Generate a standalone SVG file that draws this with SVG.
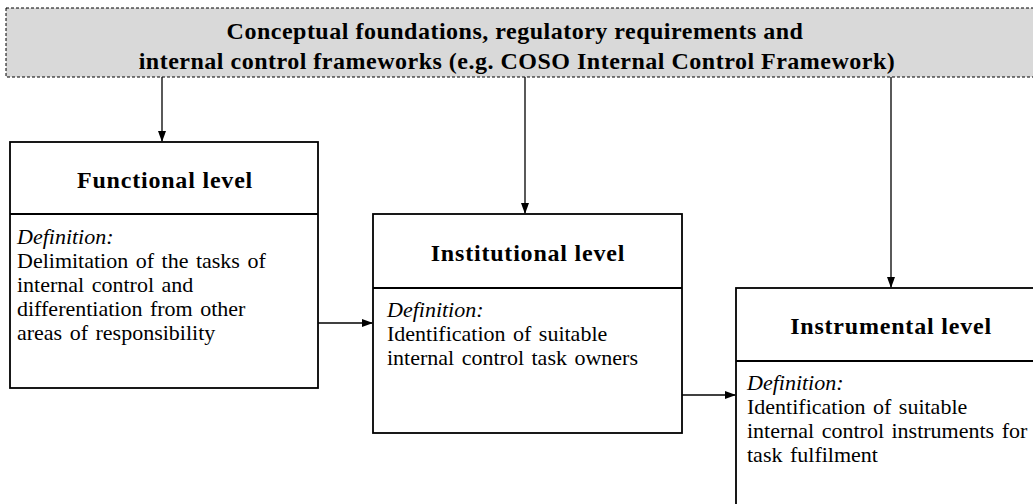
<svg xmlns="http://www.w3.org/2000/svg" width="1033" height="504" viewBox="0 0 1033 504">
<defs>
<marker id="ah" markerWidth="11" markerHeight="10" refX="10" refY="5" orient="auto" markerUnits="userSpaceOnUse">
<path d="M0,1 L11,5 L0,9 Z" fill="#000"/>
</marker>
<style>
.box{fill:#fff;stroke:#000;stroke-width:1.8}
.div{stroke:#000;stroke-width:1.8}
.title{font-family:"Liberation Serif","Times New Roman",serif;font-weight:bold;font-size:24px;letter-spacing:0.8px;text-anchor:middle;fill:#000}
.banner{font-family:"Liberation Serif","Times New Roman",serif;font-weight:bold;font-size:24px;letter-spacing:0.5px;text-anchor:middle;fill:#000}
.body{font-family:"Liberation Serif","Times New Roman",serif;font-size:22px;word-spacing:2px;fill:#000}
.it{font-style:italic}
.con{stroke:#000;stroke-width:1.3;fill:none;marker-end:url(#ah)}
</style>
</defs>
<rect width="1033" height="504" fill="#fff"/>
<g id="banner">
<rect x="6" y="8" width="1040" height="69" fill="#d9d9d9" stroke="#000" stroke-width="1" stroke-dasharray="3,2"/>
<text class="banner" x="515" y="39">Conceptual foundations, regulatory requirements and</text>
<text class="banner" x="517" y="69">internal control frameworks (e.g. COSO Internal Control Framework)</text>
</g>
<g id="functional">
<rect class="box" x="10" y="142" width="308" height="246"/>
<line class="div" x1="10" y1="214" x2="318" y2="214"/>
<text class="title" x="165" y="188">Functional level</text>
<text class="body"><tspan class="it" x="17" y="244">Definition:</tspan><tspan x="17" y="268">Delimitation of the tasks of</tspan><tspan x="17" y="292">internal control and</tspan><tspan x="17" y="316">differentiation from other</tspan><tspan x="17" y="340">areas of responsibility</tspan></text>
</g>
<g id="institutional">
<rect class="box" x="373" y="214" width="309" height="219"/>
<line class="div" x1="373" y1="288" x2="682" y2="288"/>
<text class="title" x="528" y="261">Institutional level</text>
<text class="body"><tspan class="it" x="387" y="317">Definition:</tspan><tspan x="387" y="341">Identification of suitable</tspan><tspan x="387" y="365">internal control task owners</tspan></text>
</g>
<g id="instrumental">
<rect class="box" x="736" y="288" width="310" height="230"/>
<line class="div" x1="736" y1="361" x2="1046" y2="361"/>
<text class="title" x="891" y="334">Instrumental level</text>
<text class="body"><tspan class="it" x="747" y="390">Definition:</tspan><tspan x="747" y="414">Identification of suitable</tspan><tspan x="747" y="438">internal control instruments for</tspan><tspan x="747" y="462">task fulfilment</tspan></text>
</g>
<g id="connectors">
<line class="con" x1="162" y1="77" x2="162" y2="141"/>
<line class="con" x1="525" y1="77" x2="525" y2="213"/>
<line class="con" x1="891" y1="77" x2="891" y2="287"/>
<line class="con" x1="318" y1="323" x2="372" y2="323"/>
<line class="con" x1="682" y1="395" x2="735" y2="395"/>
</g>
</svg>
